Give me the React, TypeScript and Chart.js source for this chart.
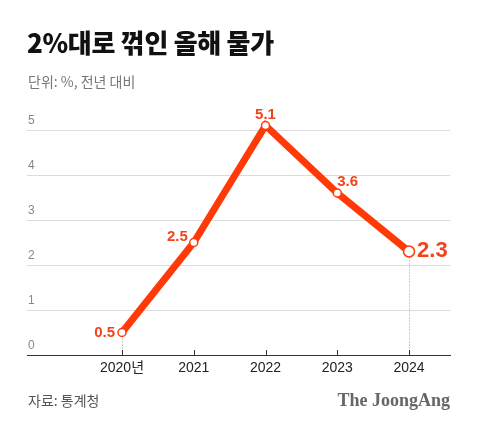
import React, { useEffect, useRef } from "react";
import { Chart, registerables } from "chart.js";

Chart.register(...registerables);

const years = [2020, 2021, 2022, 2023, 2024];
const inflation = [0.5, 2.5, 5.1, 3.6, 2.3];
const yTicks = [0, 1, 2, 3, 4, 5];
const xTickLabels = ["2020년", "2021", "2022", "2023", "2024"];
const valueLabels = ["0.5", "2.5", "5.1", "3.6", "2.3"];

const RED = "#ff3a06";
const LABEL_RED = "#f2431c";

const overlayPlugin = {
  id: "overlay",
  afterDatasetsDraw(chart: any) {
    const { ctx, scales, chartArea } = chart;
    const xs = scales.x;
    ctx.save();
    ctx.strokeStyle = "#333";
    ctx.lineWidth = 1;
    years.forEach((yr) => {
      const px = Math.round(xs.getPixelForValue(yr)) + 0.5;
      ctx.beginPath();
      ctx.moveTo(px, chartArea.bottom - 5);
      ctx.lineTo(px, chartArea.bottom);
      ctx.stroke();
    });
    const meta = chart.getDatasetMeta(0);
    const offsets = [
      { dx: -7, dy: 0, align: "right", size: 15 },
      { dx: -6, dy: -6, align: "right", size: 15 },
      { dx: 0, dy: -11, align: "center", size: 15 },
      { dx: 0, dy: -11, align: "left", size: 15 },
      { dx: 8, dy: -1, align: "left", size: 22 },
    ];
    ctx.fillStyle = LABEL_RED;
    ctx.textBaseline = "middle";
    meta.data.forEach((pt: any, i: number) => {
      const o = offsets[i];
      ctx.font = `bold ${o.size}px "Liberation Sans", Arial, sans-serif`;
      ctx.textAlign = o.align;
      ctx.fillText(valueLabels[i], pt.x + o.dx, pt.y + o.dy);
    });
    ctx.restore();
  },
  beforeDatasetsDraw(chart: any) {
    const { ctx, chartArea } = chart;
    const meta = chart.getDatasetMeta(0);
    ctx.save();
    ctx.strokeStyle = "#999";
    ctx.lineWidth = 1;
    ctx.setLineDash([1, 2]);
    [0, 4].forEach((i) => {
      const pt = meta.data[i];
      const px = Math.round(pt.x) + 0.5;
      ctx.beginPath();
      ctx.moveTo(px, pt.y);
      ctx.lineTo(px, chartArea.bottom);
      ctx.stroke();
    });
    ctx.restore();
  },
};

export default function App() {
  const ref = useRef<HTMLCanvasElement>(null);
  useEffect(() => {
    const chart = new Chart(ref.current!, {
      type: "line",
      data: {
        datasets: [
          {
            data: years.map((x, i) => ({ x, y: inflation[i] })),
            borderColor: RED,
            borderWidth: 7,
            pointBackgroundColor: "#fff",
            pointBorderColor: RED,
            pointBorderWidth: 1.5,
            pointRadius: [4, 4, 4, 4, 5.5],
            tension: 0,
            clip: false as any,
            borderCapStyle: "round",
          },
        ],
      },
      options: {
        animation: false,
        responsive: false,
        devicePixelRatio: 1,
        layout: { padding: { left: 27, right: 30, top: 130, bottom: 0 } },
        plugins: { legend: { display: false }, tooltip: { enabled: false } },
        scales: {
          x: {
            type: "linear",
            min: 2018.676,
            max: 2024.571,
            afterBuildTicks: (s: any) => {
              s.ticks = years.map((v) => ({ value: v }));
            },
            afterFit: (s: any) => {
              s.height = 73;
            },
            grid: { display: false, drawTicks: false },
            border: { display: true, color: "#333", width: 1 },
            ticks: {
              padding: 5,
              color: "#222",
              font: { size: 14, family: '"Liberation Sans", Arial, "Noto Sans CJK KR", sans-serif' },
              callback: (v: any) => xTickLabels[years.indexOf(Number(v))] ?? "",
              maxRotation: 0,
              autoSkip: false,
            },
          },
          y: {
            min: 0,
            max: 5,
            afterBuildTicks: (s: any) => {
              s.ticks = yTicks.map((v) => ({ value: v }));
            },
            afterFit: (s: any) => {
              s.width = 0;
            },
            grid: { color: "#dcdcdc", lineWidth: 1, drawTicks: false },
            border: { display: false },
            ticks: {
              mirror: true,
              padding: 1,
              labelOffset: -9,
              color: "#888",
              font: { size: 12, family: '"Liberation Sans", Arial, sans-serif' },
            },
          },
        },
      },
      plugins: [overlayPlugin],
    } as any);
    return () => chart.destroy();
  }, []);

  return (
    <div
      style={{
        position: "fixed",
        left: 0,
        top: 0,
        width: 480,
        height: 428,
        background: "#fff",
        overflow: "hidden",
      }}
    >
      <canvas ref={ref} width={480} height={428} style={{ position: "absolute", left: 0, top: 0 }} />
      <div
        style={{
          position: "absolute",
          left: 27,
          top: 25,
          fontFamily: '"Noto Sans CJK KR", sans-serif',
          fontWeight: 900,
          fontSize: 26,
          lineHeight: "34px",
          color: "#111",
          letterSpacing: -0.3,
          whiteSpace: "nowrap",
        }}
      >
        2%대로 꺾인 올해 물가
      </div>
      <div
        style={{
          position: "absolute",
          left: 28,
          top: 71,
          fontFamily: '"Noto Sans CJK KR", sans-serif',
          fontSize: 14,
          lineHeight: "20px",
          color: "#777",
          whiteSpace: "nowrap",
        }}
      >
        단위: %, 전년 대비
      </div>
      <div
        style={{
          position: "absolute",
          left: 28,
          top: 390,
          fontFamily: '"Noto Sans CJK KR", sans-serif',
          fontSize: 14,
          lineHeight: "20px",
          color: "#555",
          whiteSpace: "nowrap",
        }}
      >
        자료: 통계청
      </div>
      <div
        style={{
          position: "absolute",
          right: 30,
          top: 388,
          fontFamily: '"Liberation Serif", "DejaVu Serif", serif',
          fontWeight: 700,
          fontSize: 18,
          lineHeight: "24px",
          color: "#666",
          whiteSpace: "nowrap",
        }}
      >
        The JoongAng
      </div>
    </div>
  );
}
